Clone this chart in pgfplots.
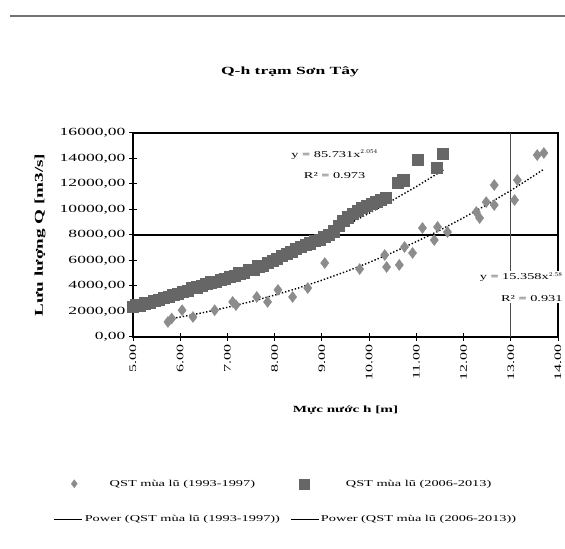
\documentclass[border=0pt]{standalone}
\usepackage{fontspec}
\setmainfont{Liberation Serif}[FakeStretch=1.6]
\usepackage{pgfplots}
\pgfplotsset{compat=1.18}

\pgfplotstableread{
x y
5.74 1180
5.82 1450
6.04 2100
6.27 1570
6.73 2100
7.11 2750
7.18 2500
7.62 3140
7.85 2750
8.07 3690
8.38 3140
8.70 3840
9.06 5800
9.80 5330
10.33 6430
10.37 5490
10.64 5650
10.75 7060
10.92 6590
11.13 8550
11.38 7600
11.45 8630
11.66 8230
12.27 9800
12.34 9330
12.48 10580
12.65 10350
12.65 11920
13.08 10740
13.14 12310
13.56 14270
13.70 14430
}\seriesA

\pgfplotstableread{
x y
5.00 2350
5.05 2500
5.15 2450
5.25 2650
5.35 2700
5.45 2850
5.55 2900
5.65 3100
5.75 3150
5.85 3300
5.95 3400
6.05 3550
6.15 3650
6.25 3850
6.35 3900
6.45 4050
6.55 4150
6.65 4300
6.75 4350
6.85 4500
6.95 4600
7.05 4750
7.15 4800
7.25 5000
7.35 5050
7.45 5250
7.55 5300
7.65 5550
7.75 5600
7.85 5850
7.95 6000
8.05 6150
8.15 6350
8.25 6550
8.35 6700
8.45 6950
8.55 7100
8.65 7250
8.75 7350
8.85 7550
8.95 7650
9.05 7850
9.15 8000
9.25 8300
9.35 8700
9.45 9100
9.55 9400
9.65 9700
9.75 9900
9.85 10150
9.95 10300
10.05 10450
10.15 10600
10.25 10750
10.35 10900
10.60 12100
10.72 12300
11.03 13900
11.43 13300
11.55 14350
}\seriesB

\pgfplotstableread{
x y
5.7 1370
6.0 1564
6.5 1922
7.0 2327
7.5 2780
8.0 3285
8.5 3840
9.0 4452
9.5 5118
10.0 5842
10.5 6630
11.0 7477
11.5 8380
12.0 9355
12.5 10390
13.0 11490
13.5 12670
13.7 13160
}\fitA

\pgfplotstableread{
x y
5.0 2339
5.5 2842
6.0 3397
6.5 4006
7.0 4668
7.5 5381
8.0 6139
8.5 6956
9.0 7813
9.5 8733
10.0 9710
10.5 10730
11.0 11800
11.6 13160
}\fitB

\begin{document}
\begin{tikzpicture}[x=1bp,y=1bp]
\path[use as bounding box] (0,0) rectangle (565,549);
\draw[line width=2bp, black!55] (10,533) -- (565,533);
\node[font=\fontsize{11}{13}\selectfont\bfseries] at (290,477) {Q-h trạm Sơn Tây};
\begin{axis}[
  at={(133bp,212bp)}, anchor=south west,
  width=425bp, height=204bp, scale only axis,
  xmin=5, xmax=14, ymin=0, ymax=16000,
  scaled y ticks=false, scaled x ticks=false,
  xtick={5,6,...,14},
  xticklabels={5.00,6.00,7.00,8.00,9.00,10.00,11.00,12.00,13.00,14.00},
  ytick={0,2000,...,16000},
  yticklabels={{0,00},{2000,00},{4000,00},{6000,00},{8000,00},{10000,00},{12000,00},{14000,00},{16000,00}},
  tick pos=left, tick align=center, major tick length=8bp,
  tick style={black, line width=1bp},
  axis line style={black, line width=1.3bp},
  xticklabel style={rotate=90, anchor=east, font=\fontsize{10}{12}\selectfont},
  yticklabel style={font=\fontsize{11}{12}\selectfont},
  xlabel={Mực nước h [m]},
  ylabel={Lưu lượng Q [m3/s]},
  xlabel style={at={(axis description cs:0.5,-0.36)}, anchor=center, font=\fontsize{9.5}{12}\selectfont\bfseries},
  ylabel style={at={(axis description cs:-0.219,0.5)}, anchor=center, font=\fontsize{12}{13}\selectfont\bfseries},
  legend columns=2,
  legend style={at={(axis description cs:0.36,-0.68)}, anchor=north, draw=none, fill=none,
    font=\fontsize{9}{11}\selectfont, row sep=24bp,
    /tikz/every even column/.append style={column sep=8bp}},
  clip=false,
]
\draw[line width=1.5bp, black] (axis cs:5,8000) -- (axis cs:14,8000);
\draw[line width=1bp, black!70] (axis cs:13,0) -- (axis cs:13,16000);
\addplot[only marks, mark=diamond*, mark size=5.5bp, color=black!45, mark options={fill=black!45, draw=black!45},
  legend image code/.code={\path (0bp,0bp) (28bp,0bp); \draw[mark repeat=2, mark phase=2, mark size=4bp] plot[only marks] coordinates {(8bp,0bp) (20bp,0bp) (28bp,0bp)};}] table {\seriesA};
\addplot[only marks, mark=square*, mark size=5.6bp, color=black!60, mark options={fill=black!60, draw=black!60},
  legend image code/.code={\path (0bp,0bp) (28bp,0bp); \draw[mark repeat=2, mark phase=2, mark size=5bp] plot[only marks] coordinates {(0bp,0bp) (14bp,0bp) (28bp,0bp)};}] table {\seriesB};
\addplot[forget plot, black, dotted, line width=1.4bp] table {\fitA};
\addplot[forget plot, black, dotted, line width=1.4bp] table {\fitB};
\addlegendimage{black, line width=1bp, legend image code/.code={\draw (0bp,0bp) -- (28bp,0bp);}}
\addlegendimage{black, line width=1bp, legend image code/.code={\draw (0bp,0bp) -- (28bp,0bp);}}
\legend{QST mùa lũ (1993-1997), QST mùa lũ (2006-2013), Power (QST mùa lũ (1993-1997)), Power (QST mùa lũ (2006-2013))}
\node[fill=white, inner sep=1bp, align=center, font=\fontsize{9}{21}\selectfont] at (axis cs:9.27,13560) {y = 85.731x$^{2.054}$\\R² = 0.973};
\node[fill=white, inner sep=1bp, align=right, font=\fontsize{9}{22}\selectfont] at (axis cs:13.22,3920) {y = 15.358x$^{2.58}$\\R² = 0.931};
\end{axis}
\end{tikzpicture}
\end{document}
